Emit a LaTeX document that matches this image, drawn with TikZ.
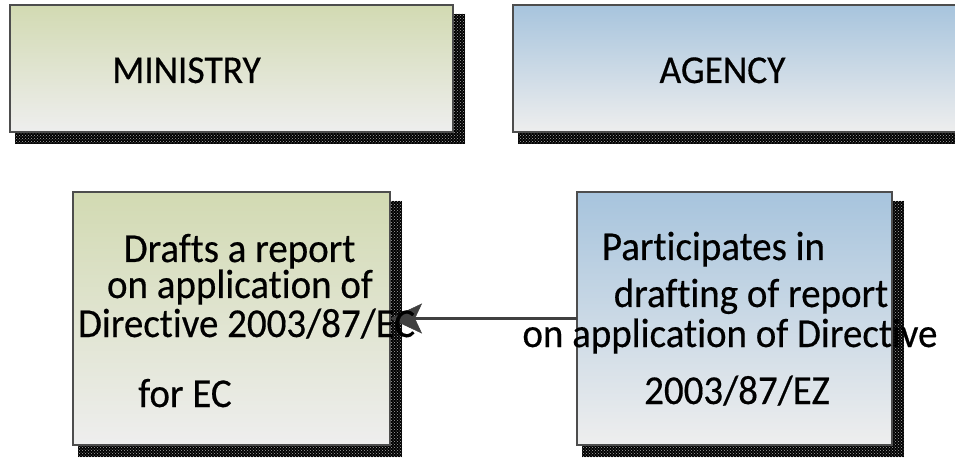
\documentclass[tikz,border=0pt]{standalone}
\usepackage{fontspec}
\setmainfont{Carlito}
\newfontfamily\boxfont[FakeBold=0.4,FakeStretch=0.95,Ligatures=NoCommon]{Carlito}
\usetikzlibrary{arrows.meta,backgrounds,patterns}

\definecolor{bordergray}{HTML}{4D4D4D}
\definecolor{greentop}{HTML}{D2DAB2}
\definecolor{bluetop}{HTML}{A7C4DD}
\definecolor{boxbottom}{HTML}{EEEEEE}
\definecolor{arrowgray}{HTML}{404040}

\begin{document}
\begin{tikzpicture}[x=1pt,y=1pt,
  box/.style={rectangle, draw=bordergray, line width=2.5pt, inner sep=0pt, outer sep=0pt, bottom color=boxbottom},
  greenbox/.style={box, top color=greentop, bottom color=boxbottom},
  bluebox/.style={box, top color=bluetop, bottom color=boxbottom},
  headtext/.style={font=\boxfont\fontsize{39.5}{46}\selectfont, anchor=base, inner sep=0pt},
  bodytext/.style={font=\boxfont\fontsize{41}{48}\selectfont, anchor=base, inner sep=0pt},
  speckle/.style={pattern=crosshatch dots, pattern color=gray!70},
  flow/.style={draw=arrowgray, line width=3pt, -{Stealth[length=32pt,width=30pt,inset=7pt,line width=0.5pt]}}
]
\useasboundingbox (0,0) rectangle (955,458);

% boxes
\node[greenbox, minimum width=443pt, minimum height=127pt] (ministry) at (231.5,389.5) {};
\node[bluebox,  minimum width=449pt, minimum height=127pt] (agency)   at (737.5,389.5) {};
\node[greenbox, minimum width=317pt, minimum height=253pt] (drafts)   at (231.5,139.5) {};
\node[bluebox,  minimum width=315pt, minimum height=253pt] (helps)    at (734.5,139.5) {};

% drop shadows behind the boxes
\begin{pgfonlayer}{background}
  \foreach \b in {ministry,agency,drafts,helps}{
    \fill[black] ([shift={(5,-12)}]\b.south west) rectangle ([shift={(12,-9)}]\b.north east);
    \fill[speckle] ([shift={(5,-12)}]\b.south west) rectangle ([shift={(12,-9)}]\b.north east);
  }
\end{pgfonlayer}

% connector
\draw[flow] (helps.west) -- (drafts.east);

% labels
\node[headtext] (t-min) at (186.5,375) {MINISTRY};
\node[headtext] (t-ag)  at (722.5,375) {AGENCY};

\node[bodytext] (l1) at (239.5,196) {Drafts a report};
\node[bodytext] (l2) at (240,160)   {on application of};
\node[bodytext] (l3) at (246.5,121) {Directive 2003/87/EC};
\node[bodytext] (l4) at (185,51)    {for EC};

\node[bodytext] (r1) at (713.5,198) {Participates in};
\node[bodytext] (r2) at (751,151)   {drafting of report};
\node[bodytext] (r3) at (730,111)   {on application of Directive};
\node[bodytext] (r4) at (737,54)    {2003/87/EZ};
\end{tikzpicture}
\end{document}
